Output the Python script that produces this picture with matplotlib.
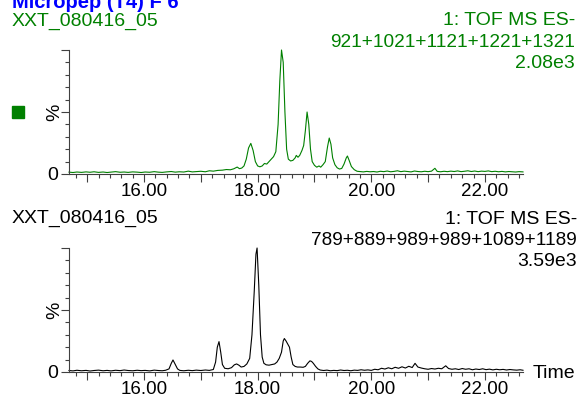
import matplotlib
matplotlib.use("Agg")
import matplotlib.pyplot as plt
from matplotlib.ticker import MultipleLocator, FuncFormatter
from matplotlib.patches import Rectangle

plt.rcParams['font.family'] = ['Liberation Sans', 'DejaVu Sans']

# top trace: 921+1021+1121+1221+1321, max 2.08e3
t_top = [14.68, 14.75, 14.82, 14.90, 14.98, 15.05, 15.12, 15.20, 15.28, 15.35,
         15.42, 15.50, 15.58, 15.65, 15.72, 15.80, 15.88, 15.95, 16.02, 16.10,
         16.18, 16.25, 16.32, 16.40, 16.48, 16.55, 16.62, 16.70, 16.78, 16.85,
         16.92, 17.00, 17.08, 17.15, 17.22, 17.30, 17.38, 17.45, 17.52, 17.58,
         17.64, 17.68, 17.72, 17.76, 17.80, 17.84, 17.88, 17.92, 17.96, 18.00,
         18.04, 18.08, 18.12, 18.16, 18.20, 18.24, 18.28, 18.32, 18.36, 18.39,
         18.42, 18.45, 18.48, 18.51, 18.54, 18.58, 18.62, 18.66, 18.68, 18.71,
         18.74, 18.78, 18.81, 18.84, 18.87, 18.90, 18.93, 18.96, 19.00, 19.04,
         19.08, 19.11, 19.15, 19.19, 19.23, 19.26, 19.29, 19.32, 19.36, 19.40,
         19.44, 19.48, 19.52, 19.56, 19.58, 19.61, 19.65, 19.70, 19.75, 19.80,
         19.86, 19.92, 19.98, 20.04, 20.10, 20.16, 20.22, 20.28, 20.34, 20.40,
         20.46, 20.52, 20.58, 20.64, 20.70, 20.76, 20.82, 20.88, 20.94, 21.00,
         21.06, 21.12, 21.16, 21.22, 21.28, 21.34, 21.40, 21.46, 21.52, 21.58,
         21.64, 21.70, 21.76, 21.82, 21.88, 21.94, 22.00, 22.06, 22.12, 22.18,
         22.24, 22.30, 22.36, 22.42, 22.48, 22.54, 22.60, 22.67]
y_top = [1.5, 1.2, 1.6, 1.3, 1.7, 1.4, 1.8, 1.3, 1.6, 1.2,
         1.5, 1.9, 1.4, 1.6, 1.3, 1.7, 1.5, 1.2, 1.6, 1.4,
         1.9, 1.5, 1.3, 1.7, 2.0, 1.5, 1.8, 1.6, 2.3, 1.7,
         1.9, 2.2, 1.8, 2.6, 2.3, 2.9, 3.1, 3.6, 3.4, 4.2,
         5.6, 4.3, 4.8, 6.5, 12.0, 21.0, 24.7, 19.0, 10.0, 6.5,
         5.8, 6.5, 8.5, 8.0, 10.0, 12.0, 14.0, 18.0, 40.0, 75.0,
         100.0, 90.0, 50.0, 20.0, 12.0, 10.5, 11.0, 13.0, 15.0, 13.5,
         15.0, 19.0, 23.0, 35.0, 50.0, 40.0, 20.0, 10.0, 7.0, 5.5,
         6.5, 5.5, 7.5, 10.0, 22.0, 29.0, 24.0, 13.0, 7.5, 5.0,
         4.0, 4.5, 8.0, 13.0, 14.5, 11.0, 6.0, 3.5, 2.2, 2.0,
         1.7, 2.1, 1.8, 2.0, 1.6, 2.2, 1.9, 2.4, 1.8, 2.1,
         2.6, 1.9, 2.3, 2.0, 1.7, 2.4, 2.0, 1.8, 2.2, 1.9,
         2.3, 4.6, 2.1, 1.8, 2.2, 1.9, 2.3, 2.0, 2.5, 1.9,
         2.2, 2.6, 2.0, 2.4, 1.9, 2.3, 2.1, 2.5, 1.9, 2.2,
         1.8, 2.1, 1.7, 2.0, 1.8, 1.6, 1.9, 1.7]

# bottom trace: 789+889+989+989+1089+1189, max 3.59e3
t_bot = [14.68, 14.75, 14.82, 14.90, 14.98, 15.05, 15.12, 15.20, 15.28, 15.35,
         15.42, 15.50, 15.58, 15.65, 15.72, 15.80, 15.88, 15.95, 16.02, 16.10,
         16.18, 16.25, 16.32, 16.38, 16.44, 16.48, 16.51, 16.55, 16.59, 16.63,
         16.70, 16.78, 16.85, 16.92, 17.00, 17.08, 17.15, 17.22, 17.26, 17.29,
         17.32, 17.35, 17.38, 17.42, 17.48, 17.54, 17.59, 17.63, 17.67, 17.71,
         17.76, 17.81, 17.86, 17.90, 17.94, 17.97, 17.99, 18.02, 18.05, 18.08,
         18.11, 18.15, 18.20, 18.25, 18.30, 18.34, 18.38, 18.42, 18.45, 18.47,
         18.50, 18.53, 18.56, 18.59, 18.62, 18.66, 18.70, 18.75, 18.80, 18.84,
         18.88, 18.92, 18.95, 18.98, 19.02, 19.06, 19.10, 19.16, 19.22, 19.28,
         19.34, 19.40, 19.46, 19.52, 19.58, 19.64, 19.70, 19.76, 19.82, 19.88,
         19.94, 20.00, 20.06, 20.12, 20.18, 20.24, 20.30, 20.36, 20.42, 20.48,
         20.54, 20.60, 20.66, 20.72, 20.77, 20.82, 20.88, 20.94, 21.00, 21.06,
         21.12, 21.18, 21.24, 21.31, 21.36, 21.42, 21.48, 21.54, 21.60, 21.66,
         21.72, 21.78, 21.84, 21.90, 21.96, 22.02, 22.08, 22.14, 22.20, 22.26,
         22.32, 22.38, 22.44, 22.50, 22.56, 22.62, 22.67]
y_bot = [1.2, 0.9, 1.4, 1.0, 1.3, 0.8, 1.2, 1.5, 1.0, 1.3,
         0.9, 1.4, 1.1, 1.6, 1.2, 1.0, 1.4, 1.1, 1.3, 0.9,
         1.5, 1.2, 1.0, 1.4, 2.5, 7.0, 9.7, 6.0, 2.5, 1.3,
         1.0, 1.4, 1.1, 1.5, 1.2, 1.6, 1.3, 2.0, 8.0, 20.0,
         24.5, 16.0, 6.0, 3.0, 2.6, 3.5, 5.8, 6.5, 5.5, 4.0,
         4.5, 6.5, 11.0, 30.0, 65.0, 95.0, 100.0, 70.0, 30.0, 12.0,
         7.0, 5.8, 5.5, 6.0, 6.5, 8.0, 11.0, 16.0, 25.0, 27.0,
         25.0, 22.5, 20.0, 12.0, 6.0, 4.5, 4.0, 4.0, 3.8, 4.5,
         7.0, 9.0, 8.5, 7.0, 4.5, 2.5, 1.6, 1.2, 1.5, 1.0,
         1.3, 1.1, 1.6, 1.2, 1.4, 1.0, 1.5, 1.3, 1.8, 1.4,
         1.7, 1.3, 2.2, 1.8, 3.0, 2.4, 3.4, 2.6, 3.8, 3.0,
         4.2, 3.2, 4.6, 3.6, 7.0, 4.0, 3.2, 2.6, 2.2, 2.8,
         2.4, 3.0, 2.6, 5.0, 2.8, 2.2, 2.6, 2.0, 2.8, 2.2,
         2.6, 1.8, 2.4, 2.0, 2.6, 1.9, 2.3, 1.7, 2.2, 1.8,
         2.1, 1.6, 2.0, 1.7, 1.5, 1.8, 1.4]

W, H = 584, 398


def fx(x):
    return x / W


def fy(y):
    return 1 - y / H


fig = plt.figure(figsize=(W / 100, H / 100), dpi=100)

green = '#008000'
axcol = '#404040'


def setup(ax):
    ax.set_xlim(14.68, 22.67)
    ax.set_ylim(0, 100)
    for s in ['top', 'right']:
        ax.spines[s].set_visible(False)
    for s in ['left', 'bottom']:
        ax.spines[s].set_color(axcol)
        ax.spines[s].set_linewidth(0.8)
    ax.xaxis.set_major_locator(MultipleLocator(1))
    ax.xaxis.set_minor_locator(MultipleLocator(0.2))
    ax.xaxis.set_major_formatter(FuncFormatter(
        lambda v, p: '%.2f' % v if round(v) % 2 == 0 else ''))
    ax.set_yticks([0, 50, 100])
    ax.set_yticklabels(['0', '', ''])
    ax.yaxis.set_minor_locator(MultipleLocator(10))
    ax.tick_params(axis='x', which='major', length=6, width=0.8, color=axcol,
                   pad=0.8, labelsize=13.5)
    ax.tick_params(axis='x', which='minor', length=3, width=0.8, color=axcol)
    ax.tick_params(axis='y', which='major', length=6, width=0.8, color=axcol,
                   pad=1.5, labelsize=14)
    ax.tick_params(axis='y', which='minor', length=3, width=0.8, color=axcol)
    ax.patch.set_visible(False)


ax1 = fig.add_axes([fx(69), fy(174), fx(523) - fx(69), fy(50) - fy(174)])
setup(ax1)
ax1.plot(t_top, y_top, color=green, lw=0.8, clip_on=False)

ax2 = fig.add_axes([fx(69), fy(372), fx(523) - fx(69), fy(248) - fy(372)])
setup(ax2)
ax2.plot(t_bot, y_bot, color='black', lw=0.8, clip_on=False)

# header texts
fig.text(fx(12), fy(8), 'Micropep (T4) F 6', color='#0000FF', fontsize=14.5,
         fontweight='bold', va='baseline')
fig.text(fx(12), fy(26), 'XXT_080416_05', color=green, fontsize=14, va='baseline')
fig.text(fx(575), fy(25), '1: TOF MS ES-', color=green, fontsize=14,
         ha='right', va='baseline')
fig.text(fx(575), fy(47), '921+1021+1121+1221+1321', color=green, fontsize=13.7,
         ha='right', va='baseline')
fig.text(fx(575), fy(68), '2.08e3', color=green, fontsize=14,
         ha='right', va='baseline')

fig.text(fx(12), fy(223), 'XXT_080416_05', color='black', fontsize=14, va='baseline')
fig.text(fx(577), fy(224), '1: TOF MS ES-', color='black', fontsize=14,
         ha='right', va='baseline')
fig.text(fx(577), fy(245), '789+889+989+989+1089+1189', color='black', fontsize=13.7,
         ha='right', va='baseline')
fig.text(fx(577), fy(266), '3.59e3', color='black', fontsize=14,
         ha='right', va='baseline')

fig.text(fx(55), fy(112), '%', fontsize=14, rotation=90, ha='center', va='center')
fig.text(fx(55), fy(310), '%', fontsize=14, rotation=90, ha='center', va='center')
fig.text(fx(533), fy(373), 'Time', fontsize=14, ha='left', va='center')

fig.patches.append(Rectangle((fx(12), fy(118)), fx(12), fy(106) - fy(118),
                             transform=fig.transFigure, color=green))

fig.savefig('out.png', dpi=100)
